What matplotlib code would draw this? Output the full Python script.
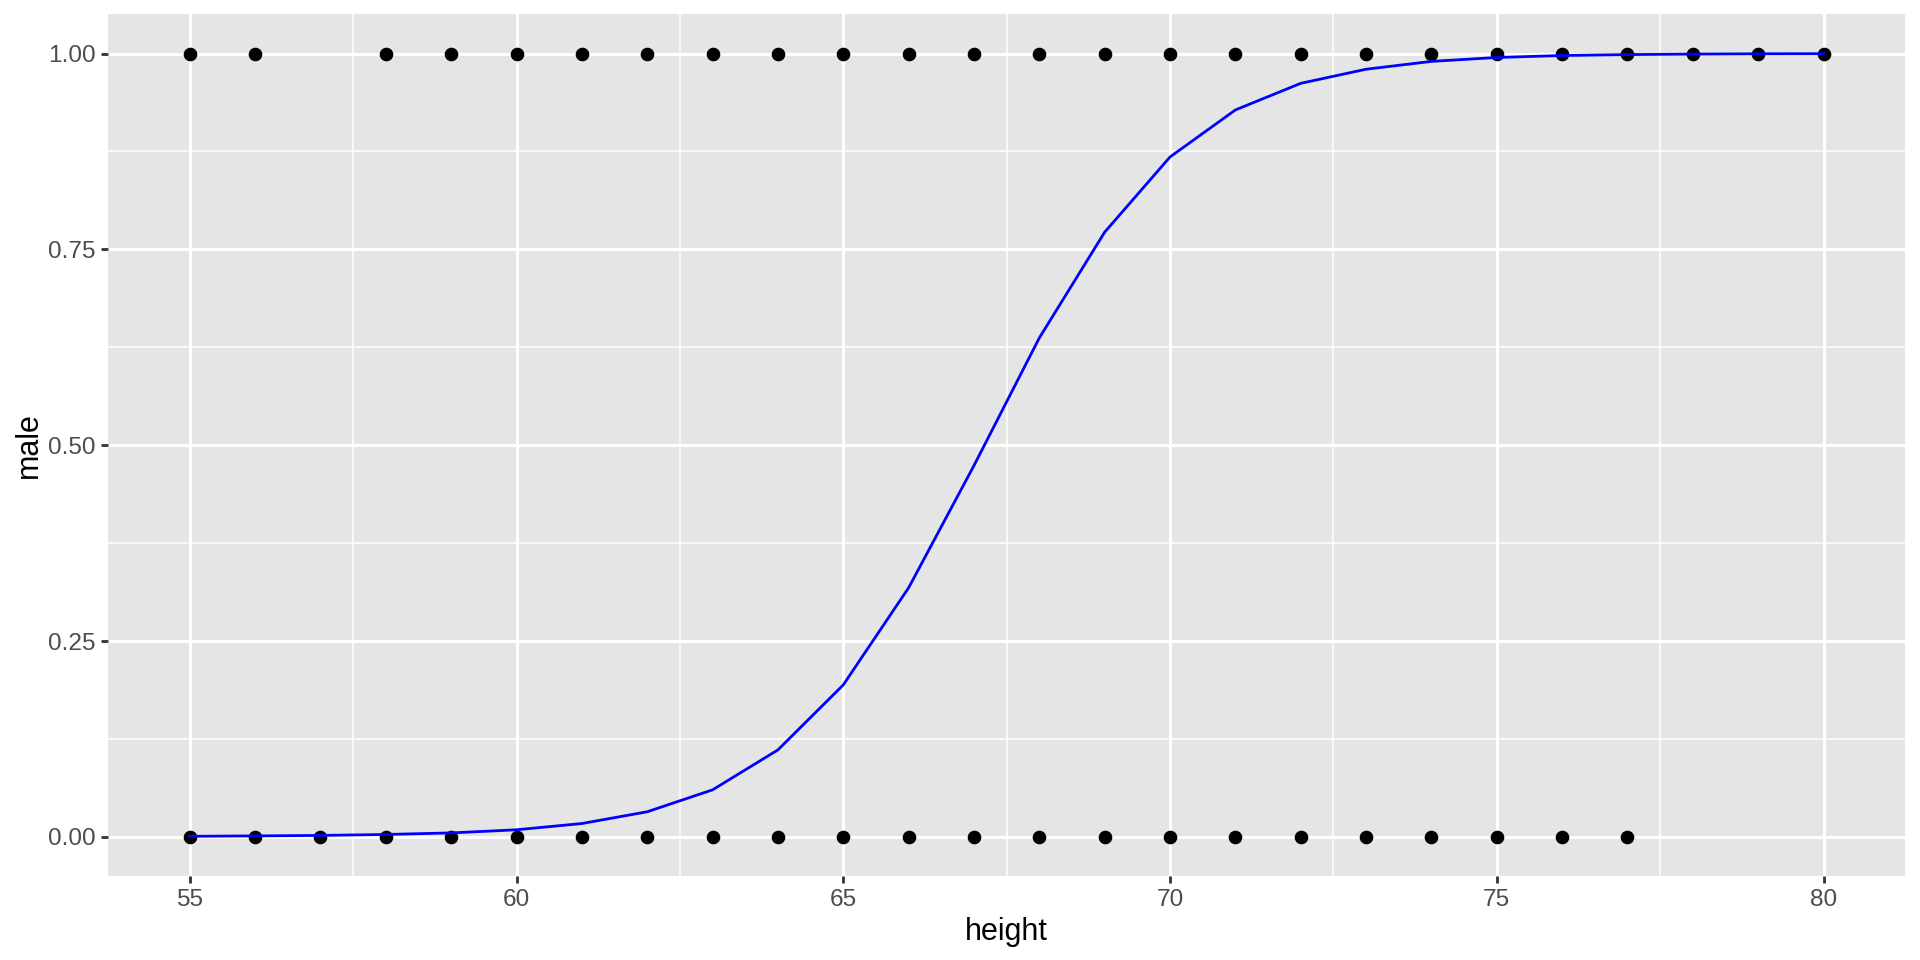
import matplotlib
matplotlib.use("Agg")
import matplotlib.pyplot as plt
import numpy as np

# observed data: heights with male == 1 and male == 0
height_male = [55, 56, 58, 59, 60, 61, 62, 63, 64, 65, 66, 67, 68, 69, 70,
               71, 72, 73, 74, 75, 76, 77, 78, 79, 80]
height_female = [55, 56, 57, 58, 59, 60, 61, 62, 63, 64, 65, 66, 67, 68, 69,
                 70, 71, 72, 73, 74, 75, 76, 77]

# fitted probability curve
fit_height = [55, 56, 57, 58, 59, 60, 61, 62, 63, 64, 65, 66, 67, 68, 69,
              70, 71, 72, 73, 74, 75, 76, 77, 78, 79, 80]
fit_prob = [0.0007, 0.0012, 0.0018, 0.003, 0.005, 0.009, 0.017, 0.032, 0.060,
            0.111, 0.194, 0.318, 0.474, 0.637, 0.772, 0.868, 0.928, 0.962,
            0.980, 0.990, 0.995, 0.9975, 0.9987, 0.9993, 0.9997, 0.9998]

plt.rcParams['font.family'] = ['Liberation Sans', 'DejaVu Sans']

fig = plt.figure(figsize=(19.2, 9.6), dpi=100)
ax = fig.add_axes([0.0563, 0.0875, 0.936, 0.8975])
ax.set_facecolor('#E5E5E5')

ax.set_xlim(53.75, 81.25)
ax.set_ylim(-0.05, 1.05)
ax.set_xticks([55, 60, 65, 70, 75, 80])
ax.set_xticks([57.5, 62.5, 67.5, 72.5, 77.5], minor=True)
ax.set_yticks([0, 0.25, 0.5, 0.75, 1.0])
ax.set_yticklabels(['0.00', '0.25', '0.50', '0.75', '1.00'])
ax.set_yticks([0.125, 0.375, 0.625, 0.875], minor=True)

ax.grid(which='major', color='white', linewidth=2.2)
ax.grid(which='minor', color='white', linewidth=1.1)
ax.set_axisbelow(True)
for s in ax.spines.values():
    s.set_visible(False)

ax.tick_params(which='major', length=5, width=2, color='#333333',
               labelsize=17.6, labelcolor='#4D4D4D', pad=4)
ax.tick_params(which='minor', length=0)

ax.plot(height_male, np.ones(len(height_male)), 'o', color='black', markersize=8.8)
ax.plot(height_female, np.zeros(len(height_female)), 'o', color='black', markersize=8.8)
ax.plot(fit_height, fit_prob, color='blue', linewidth=2.0)

ax.set_xlabel('height', fontsize=22, labelpad=5)
ax.set_ylabel('male', fontsize=22, labelpad=3)

fig.savefig('out.png', dpi=100)
